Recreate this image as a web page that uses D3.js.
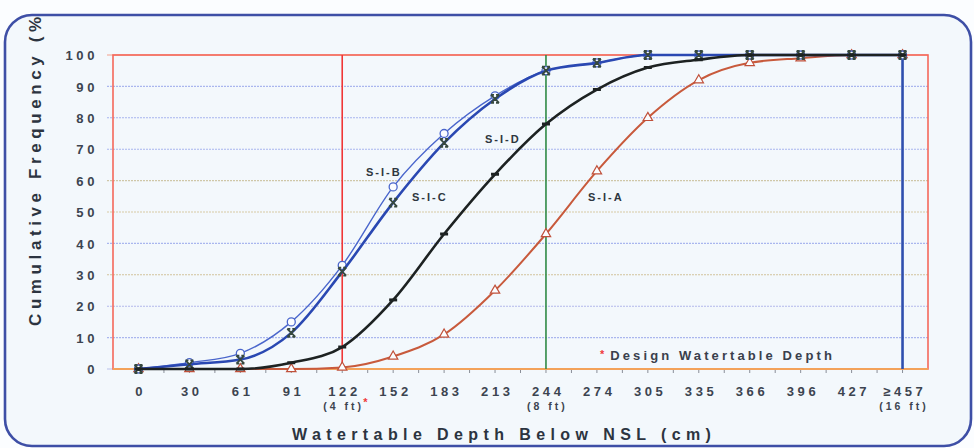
<!DOCTYPE html>
<html>
<head>
<meta charset="utf-8">
<script src="https://cdn.jsdelivr.net/npm/d3@7"></script>
<style>
  html, body { margin: 0; padding: 0; background: #fbfdff; }
  svg { display: block; font-family: Arial, "Liberation Sans", sans-serif; }
</style>
</head>
<body>
<svg id="chart" width="974" height="448"></svg>
<script>
// Depth classes (cm) below natural surface level
const depths = ["0", "30", "61", "91", "122", "152", "183", "213", "244", "274", "305", "335", "366", "396", "427", "\u2265457"];
// Feet equivalents shown under selected depths
const feetLabels = [{ depth: "122", text: "(4 ft)", star: true }, { depth: "244", text: "(8 ft)", star: false }, { depth: "\u2265457", text: "(16 ft)", star: false }];
const yTicks = [0, 10, 20, 30, 40, 50, 60, 70, 80, 90, 100];

// Cumulative frequency (%) per site
const siteA = [0, 0, 0, 0, 0.5, 4, 11, 25, 43, 63, 80, 92, 97.5, 99, 100, 100];
const siteB = [0, 2, 5, 15, 33, 58, 75, 87, 95, 97.5, 100, 100, 100, 100, 100, 100];
const siteC = [0, 1.5, 3, 11.5, 31, 53, 72, 86, 95, 97.5, 100, 100, 100, 100, 100, 100];
const siteD = [0, 0, 0, 2, 7, 22, 43, 62, 78, 89, 96, 98.5, 100, 100, 100, 100];

// Reference depths marked with vertical lines
const designDepth = "122";
const midDepth = "244";
const maxDepth = "\u2265457";

const svg = d3.select("#chart");
const plot = { left: 113, right: 928, top: 55, bottom: 369 };

const x = d3.scalePoint().domain(depths).range([plot.left, plot.right]).padding(0.5);
const y = d3.scaleLinear().domain([0, 100]).range([plot.bottom, plot.top]);

// Outer rounded panel
const defs = svg.append("defs");
defs.append("clipPath").attr("id", "panelClip")
  .append("rect").attr("x", 6).attr("y", 17).attr("width", 964).attr("height", 428).attr("rx", 26);

svg.append("rect")
  .attr("x", 5).attr("y", 15).attr("width", 966).attr("height", 431).attr("rx", 27)
  .attr("fill", "#f3f8fc");

const inner = svg.append("g").attr("clip-path", "url(#panelClip)");

// Horizontal gridlines
const gridColors = ["#b9c0ea", "#aab6ee", "#b4b8ea", "#d2c29c", "#a9b6ee", "#d7c9a4", "#cfc7a8", "#a9b5ee", "#a8b4ee", "#aab6ee", "#f3a08c"];
inner.append("g").selectAll("line").data(yTicks).join("line")
  .attr("x1", 107).attr("x2", plot.right)
  .attr("y1", d => y(d)).attr("y2", d => y(d))
  .attr("stroke", (d, i) => gridColors[i])
  .attr("stroke-width", 1.1)
  .attr("stroke-dasharray", d => (d === 0 || d === 100) ? null : "2,1");

// Y axis labels
const yAxis = d3.axisLeft(y).tickValues(yTicks).tickSize(0).tickPadding(0);
const gy = inner.append("g").attr("transform", `translate(${98},0)`).call(yAxis);
gy.select(".domain").remove();
gy.selectAll("text")
  .attr("font-size", 13).attr("font-weight", "bold").attr("fill", "#3c4450")
  .attr("letter-spacing", 3.6).attr("dy", "0.36em");

// X axis labels
const xAxis = d3.axisBottom(x).tickSize(0).tickPadding(0);
const gx = inner.append("g").attr("transform", `translate(0,${plot.bottom})`).call(xAxis);
gx.select(".domain").remove();
gx.selectAll("text")
  .attr("font-size", 13).attr("font-weight", "bold").attr("fill", "#3c4450")
  .attr("letter-spacing", 3.6).attr("dx", 1.8).attr("y", 18);

// Small tick marks along the bottom of the plot at every half step
const halfSteps = [];
depths.forEach((d, i) => {
  halfSteps.push(x(d));
  if (i < depths.length - 1) halfSteps.push((x(d) + x(depths[i + 1])) / 2);
});
inner.append("g").selectAll("line").data(halfSteps).join("line")
  .attr("x1", d => d).attr("x2", d => d)
  .attr("y1", plot.bottom).attr("y2", plot.bottom + 4)
  .attr("stroke", "#8a8f98").attr("stroke-width", 1);

// Feet equivalents under selected depths
inner.append("g").selectAll("text").data(feetLabels).join("text")
  .attr("x", d => x(d.depth) + 1.5).attr("y", plot.bottom + 41)
  .attr("text-anchor", "middle")
  .attr("font-size", 10.5).attr("font-weight", "bold").attr("fill", "#3c4450")
  .attr("letter-spacing", 3)
  .text(d => d.text);
inner.append("g").selectAll("text").data(feetLabels.filter(d => d.star)).join("text")
  .attr("x", d => x(d.depth) + 21).attr("y", plot.bottom + 37)
  .attr("font-size", 11).attr("font-weight", "bold").attr("fill", "#f03a3a")
  .text("*");

// Plot frame
inner.append("rect")
  .attr("x", plot.left).attr("y", plot.top)
  .attr("width", plot.right - plot.left).attr("height", plot.bottom - plot.top)
  .attr("fill", "none").attr("stroke", "#f4685a").attr("stroke-width", 1.6);
inner.append("line")
  .attr("x1", plot.left).attr("x2", plot.right)
  .attr("y1", plot.bottom).attr("y2", plot.bottom)
  .attr("stroke", "#f3a25a").attr("stroke-width", 2);

// Reference depth lines
const refLines = [
  { depth: designDepth, color: "#f03636", width: 1.6 },
  { depth: midDepth, color: "#2f8a45", width: 1.6 },
  { depth: maxDepth, color: "#2f4fae", width: 2.6 }
];
inner.append("g").selectAll("line").data(refLines).join("line")
  .attr("x1", d => x(d.depth)).attr("x2", d => x(d.depth))
  .attr("y1", y(100)).attr("y2", y(0))
  .attr("stroke", d => d.color).attr("stroke-width", d => d.width);

// Series
const line = d3.line()
  .x((d, i) => x(depths[i]))
  .y(d => y(d))
  .curve(d3.curveMonotoneX);

const seriesDefs = [
  { name: "S-I-A", values: siteA, color: "#c85a3c", width: 2, marker: "triangle", mcolor: "#c0503a" },
  { name: "S-I-B", values: siteB, color: "#4a66cc", width: 1.4, marker: "circle", mcolor: "#4a66cc" },
  { name: "S-I-C", values: siteC, color: "#2a48b2", width: 2.6, marker: "cross", mcolor: "#36483e" },
  { name: "S-I-D", values: siteD, color: "#1d2222", width: 2.6, marker: "dash", mcolor: "#1d2222" }
];

const gSeries = inner.append("g");
seriesDefs.forEach(s => {
  const g = gSeries.append("g");
  g.append("path").datum(s.values)
    .attr("d", line).attr("fill", "none")
    .attr("stroke", s.color).attr("stroke-width", s.width)
    .attr("stroke-linejoin", "round");
  const pts = g.selectAll("g.pt").data(s.values).join("g")
    .attr("class", "pt")
    .attr("transform", (d, i) => `translate(${x(depths[i])},${y(d)})`);
  if (s.marker === "circle") {
    pts.append("circle").attr("r", 4).attr("fill", "#fbfdff")
      .attr("stroke", s.mcolor).attr("stroke-width", 1.3);
  } else if (s.marker === "triangle") {
    pts.append("path").attr("d", d3.symbol(d3.symbolTriangle, 38)())
      .attr("fill", "#fbfdff").attr("stroke", s.mcolor).attr("stroke-width", 1.2);
  } else if (s.marker === "cross") {
    pts.append("path").attr("d", "M-4,-4L4,4M-4,4L4,-4M-4,-4H-1M1,-4H4M-4,4H-1M1,4H4")
      .attr("fill", "none").attr("stroke", s.mcolor).attr("stroke-width", 1.8);
  } else if (s.marker === "dash") {
    pts.append("path").attr("d", "M-4,0H4")
      .attr("stroke", s.mcolor).attr("stroke-width", 3);
  }
});

// Series labels
const seriesLabels = [
  { name: "S-I-B", x: 366, y: 176 },
  { name: "S-I-C", x: 412, y: 201 },
  { name: "S-I-D", x: 485, y: 143 },
  { name: "S-I-A", x: 588, y: 201 }
];
inner.append("g").selectAll("text").data(seriesLabels).join("text")
  .attr("x", d => d.x).attr("y", d => d.y)
  .attr("font-size", 11).attr("font-weight", "bold").attr("fill", "#2e3640")
  .attr("letter-spacing", 2)
  .text(d => d.name);

// Note on the design depth
const note = inner.append("text").attr("x", 600).attr("y", 360)
  .attr("font-size", 13).attr("font-weight", "bold").attr("fill", "#3a404c");
note.append("tspan").attr("fill", "#f03a3a").attr("font-size", 11).attr("dy", -2).text("*");
note.append("tspan").attr("dx", 6).attr("dy", 2).attr("letter-spacing", 3.1).text("Design Watertable Depth");

// Axis titles (the vertical title runs up into the panel edge)
inner.append("text")
  .attr("transform", `translate(41,326) rotate(-90)`)
  .attr("font-size", 17).attr("font-weight", "bold").attr("fill", "#2c3440")
  .attr("letter-spacing", 4.6)
  .text("Cumulative Frequency (%)");

inner.append("text")
  .attr("x", 292).attr("y", 440)
  .attr("font-size", 16).attr("font-weight", "bold").attr("fill", "#2c3440")
  .attr("letter-spacing", 5.4)
  .text("Watertable Depth Below NSL (cm)");

// Panel border
svg.append("rect")
  .attr("x", 5).attr("y", 15).attr("width", 966).attr("height", 431).attr("rx", 27)
  .attr("fill", "none").attr("stroke", "#3e4fa6").attr("stroke-width", 2.6);
</script>
</body>
</html>
